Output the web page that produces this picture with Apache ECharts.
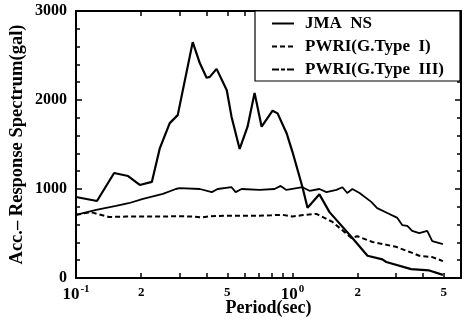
<!DOCTYPE html>
<html>
<head>
<meta charset="utf-8">
<script src="https://cdn.jsdelivr.net/npm/echarts@6/dist/echarts.min.js"></script>
<style>
html,body{margin:0;padding:0;background:#fff;}
#chart{width:465px;height:322px;}
</style>
</head>
<body>
<div id="chart"></div>
<script>
// ---- data (period in sec, acceleration response in gal) ----
const jmaPeriod = [0.1, 0.125, 0.15, 0.174, 0.197, 0.224, 0.244, 0.271, 0.295, 0.346, 0.373, 0.401, 0.415, 0.446, 0.497, 0.523, 0.570, 0.620, 0.668, 0.720, 0.809, 0.853, 0.938, 1.0, 1.112, 1.173, 1.224, 1.331, 1.482, 1.89, 2.22, 2.6, 2.71, 3.53, 4.28, 4.95];
const jmaValue  = [910, 865, 1180, 1146, 1045, 1080, 1460, 1740, 1830, 2650, 2415, 2250, 2260, 2350, 2110, 1810, 1450, 1700, 2080, 1700, 1880, 1850, 1630, 1415, 1020, 790, 840, 940, 740, 450, 250, 210, 180, 100, 85, 35];

const type1Period = [0.1, 0.117, 0.142, 0.17, 0.2, 0.25, 0.3, 0.35, 0.38, 0.42, 0.5, 0.6, 0.7, 0.8, 0.9, 1.0, 1.1, 1.29, 1.53, 1.74, 1.87, 1.99, 2.34, 3.01, 3.5, 3.85, 4.42, 4.95];
const type1Value  = [710, 740, 685, 690, 690, 690, 695, 690, 680, 695, 700, 700, 700, 705, 710, 690, 705, 720, 630, 515, 450, 470, 405, 350, 290, 250, 235, 190];

const type3Period = [0.1, 0.124, 0.153, 0.175, 0.204, 0.252, 0.289, 0.301, 0.373, 0.424, 0.451, 0.523, 0.546, 0.582, 0.705, 0.826, 0.881, 0.938, 1.112, 1.197, 1.331, 1.435, 1.596, 1.70, 1.79, 1.89, 2.04, 2.31, 2.46, 2.74, 3.05, 3.21, 3.39, 3.57, 3.85, 4.19, 4.42, 4.95];
const type3Value  = [710, 765, 810, 840, 890, 945, 1000, 1010, 1000, 965, 1000, 1020, 965, 1000, 990, 1000, 1035, 990, 1020, 980, 1000, 965, 990, 1020, 955, 1000, 955, 855, 785, 730, 675, 595, 585, 530, 505, 530, 415, 380];

const seriesNames = ['JMA  NS', 'PWRI(G.Type  I)', 'PWRI(G.Type  III)'];

// axis ticks / labels
const xTickPeriods  = [0.1,0.2,0.3,0.4,0.5,0.6,0.7,0.8,0.9,1,2,3,4,5,6];
const xLabelPeriods = [0.1, 0.2, 0.5, 1, 2, 5];
const xLabelTexts   = ['{b|10}{s|-1}', '{m|2}', '{m|5}', '{b|10}{s|0}', '{m|2}', '{m|5}'];
const xMin = 0.1, xMax = 6;
const yMin = 0, yMax = 3000, yInterval = 1000;

// ---- build ----
const lg = v => Math.log10(v);
const pairs = (p, v) => p.map((t, i) => [lg(t), v[i]]);
const FONT = '"Liberation Serif", "DejaVu Serif", serif';

function xLabelFormatter(val) {
  let best = 0, bd = 1e9;
  xLabelPeriods.forEach((p, i) => { const d = Math.abs(lg(p) - val); if (d < bd) { bd = d; best = i; } });
  return xLabelTexts[best];
}

const xBase = {
  type: 'value', min: lg(xMin), max: lg(xMax),
  axisLine: { show: true, onZero: false, lineStyle: { color: '#000', width: 2 } },
  splitLine: { show: false },
  axisTick: { show: true, inside: true, length: 5, lineStyle: { color: '#000', width: 1.5 }, customValues: xTickPeriods.map(lg) },
};
const yBase = {
  type: 'value', min: yMin, max: yMax, interval: yInterval,
  axisLine: { show: true, onZero: false, lineStyle: { color: '#000', width: 2 } },
  splitLine: { show: false },
  axisTick: { show: true, inside: true, length: 6, lineStyle: { color: '#000', width: 1.5 } },
  minorTick: { show: true, splitNumber: 5, length: 4, lineStyle: { color: '#000', width: 1.5 } },
};

const option = {
  animation: false,
  backgroundColor: '#fff',
  grid: { left: 76, right: 4, top: 11, bottom: 44, outerBoundsMode: 'none', containLabel: false },
  xAxis: [
    Object.assign({}, xBase, {
      position: 'bottom',
      name: 'Period(sec)', nameLocation: 'middle', nameGap: 21, nameMoveOverlap: false,
      nameTextStyle: { fontFamily: FONT, fontWeight: 'bold', fontSize: 18, color: '#000' },
      axisLabel: {
        show: true, margin: 6, customValues: xLabelPeriods.map(lg), formatter: xLabelFormatter,
        color: '#000', fontFamily: FONT, fontWeight: 'bold',
        rich: {
          b: { fontFamily: FONT, fontWeight: 'bold', fontSize: 17, color: '#000', lineHeight: 17, padding: [5, 0, 0, 0] },
          s: { fontFamily: FONT, fontWeight: 'bold', fontSize: 11, color: '#000', lineHeight: 11, verticalAlign: 'top', padding: [0, 0, 0, 1] },
          m: { fontFamily: FONT, fontWeight: 'bold', fontSize: 13, color: '#000', lineHeight: 13, padding: [4, 0, 0, 0] }
        }
      }
    }),
    Object.assign({}, xBase, { position: 'top', axisLabel: { show: false } })
  ],
  yAxis: [
    Object.assign({}, yBase, {
      position: 'left',
      name: 'Acc.– Response Spectrum(gal)', nameLocation: 'middle', nameGap: 49, nameRotate: 90, nameMoveOverlap: false,
      nameTextStyle: { fontFamily: FONT, fontWeight: 'bold', fontSize: 18.5, color: '#000' },
      axisLabel: { show: true, margin: 9, color: '#000', fontFamily: FONT, fontWeight: 'bold', fontSize: 16,
                   formatter: v => String(v) }
    }),
    Object.assign({}, yBase, { position: 'right', axisLabel: { show: false } })
  ],
  legend: {
    orient: 'vertical', left: 255, top: 11,
    padding: [4, 16, 3, 16], itemGap: 6, itemWidth: 22, itemHeight: 14,
    backgroundColor: '#fff', borderColor: '#000', borderWidth: 1.2,
    itemStyle: { color: 'rgba(0,0,0,0)', borderColor: 'rgba(0,0,0,0)', borderWidth: 0 },
    textStyle: { fontFamily: FONT, fontWeight: 'bold', fontSize: 17, color: '#000', padding: [0, 0, 0, 6] },
    data: [
      { name: seriesNames[0] },
      { name: seriesNames[1] },
      { name: seriesNames[2], lineStyle: { type: [7, 2, 4, 2] } }
    ]
  },
  series: [
    { name: seriesNames[0], type: 'line', data: pairs(jmaPeriod, jmaValue), showSymbol: false, symbol: 'none',
      lineStyle: { color: '#000', width: 2.2 }, itemStyle: { color: '#000' } },
    { name: seriesNames[1], type: 'line', data: pairs(type1Period, type1Value), showSymbol: false, symbol: 'none',
      lineStyle: { color: '#000', width: 2, type: [5, 3] }, itemStyle: { color: '#000' } },
    { name: seriesNames[2], type: 'line', data: pairs(type3Period, type3Value), showSymbol: false, symbol: 'none',
      lineStyle: { color: '#000', width: 1.8 }, itemStyle: { color: '#000' } }
  ]
};

const chart = echarts.init(document.getElementById('chart'), null, { renderer: 'canvas' });
chart.setOption(option);
</script>
</body>
</html>
